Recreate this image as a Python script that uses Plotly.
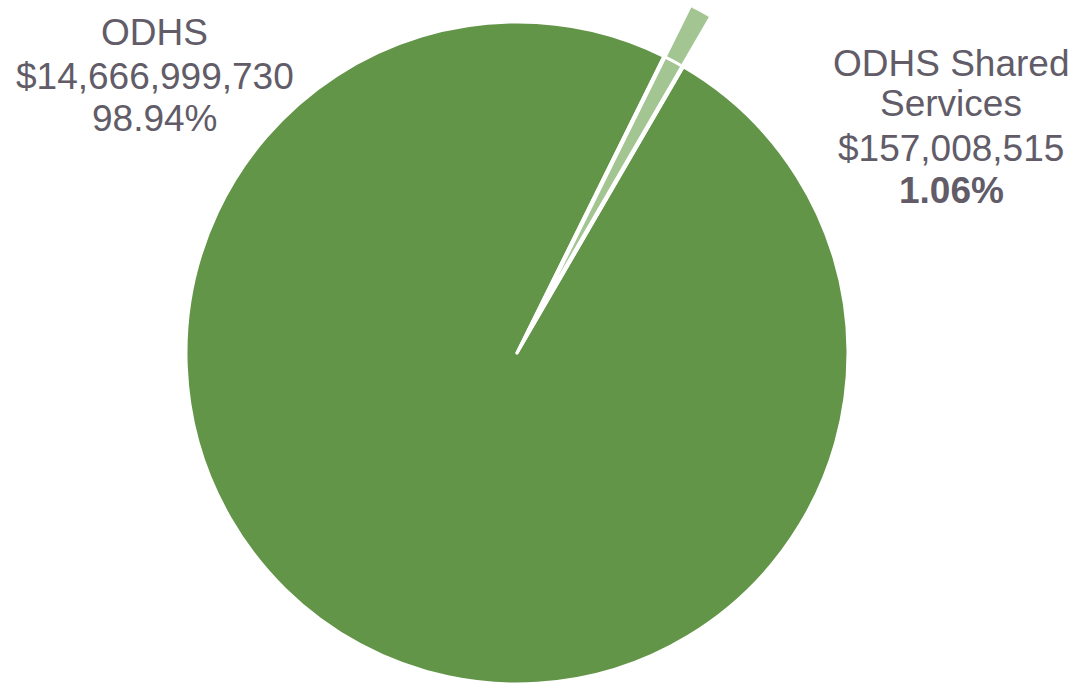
import math
import plotly.graph_objects as go

# ---------------- data ----------------
labels = ["ODHS", "ODHS Shared Services"]
label_lines = [["ODHS"], ["ODHS Shared", "Services"]]
values = [14666999730, 157008515]
slice_colors = ["#629547", "#a2c592"]
text_color = "#615c68"

# ---------------- layout geometry (px) ----------------
W, H = 1074, 685
CX, CY, R = 517, 353, 331      # main pie centre and radius
ROT = 30.16                    # start angle of first slice (deg, clockwise from 12 o'clock)
PULL = 57                      # pull-out distance of the small slice (px)
FONT = "Liberation Sans, Arial, sans-serif"
FSIZE = 37
left_x, left_ys = 155, [32, 76, 118]
right_x, right_ys = 951, [63, 103, 148, 190]

total = sum(values)
fracs = [v / total for v in values]
pcts = [f"{f * 100:.2f}%" for f in fracs]

fig = go.Figure()

# main pie: big slice green, small slice left empty (gap)
fig.add_trace(go.Pie(
    labels=labels, values=values, sort=False, direction="clockwise",
    rotation=ROT, textinfo="none", hole=0,
    marker=dict(colors=[slice_colors[0], "rgba(0,0,0,0)"],
                line=dict(color="white", width=3)),
    domain=dict(x=[(CX - R) / W, (CX + R) / W],
                y=[1 - (CY + R) / H, 1 - (CY - R) / H]),
    showlegend=False,
))

# pulled-out small slice, drawn as a polar wedge
a0 = (ROT + fracs[0] * 360) % 360
span = fracs[1] * 360
mid = a0 + span / 2
px = CX + PULL * math.sin(math.radians(mid))
py = CY - PULL * math.cos(math.radians(mid))
phi_lo = 90 - (a0 + span) - 0.5
phi_hi = 90 - a0 + 0.5
pts = [(0.0, 0.0),
       (math.cos(math.radians(phi_lo)), math.sin(math.radians(phi_lo))),
       (math.cos(math.radians(phi_hi)), math.sin(math.radians(phi_hi)))]
bx0 = min(p[0] for p in pts); bx1 = max(p[0] for p in pts)
by0 = min(p[1] for p in pts); by1 = max(p[1] for p in pts)
left = px + R * bx0; right = px + R * bx1
top = py - R * by1; bottom = py - R * by0

fig.add_trace(go.Barpolar(
    r=[1], theta=[mid], width=[span], base=[0],
    marker=dict(color=slice_colors[1], line=dict(color="white", width=2)),
    showlegend=False, name=labels[1],
))

fig.update_layout(
    polar=dict(
        domain=dict(x=[left / W, right / W], y=[1 - bottom / H, 1 - top / H]),
        sector=[phi_lo, phi_hi], bgcolor="rgba(0,0,0,0)", hole=0,
        radialaxis=dict(visible=False, range=[0, 1], showgrid=False, showline=False,
                        showticklabels=False, ticks=""),
        angularaxis=dict(visible=False, rotation=90, direction="clockwise",
                         showgrid=False, showline=False, showticklabels=False, ticks=""),
    ),
)

# labels
ann = []
left_lines = label_lines[0] + [f"${values[0]:,}", pcts[0]]
right_lines = label_lines[1] + [f"${values[1]:,}", f"<b>{pcts[1]}</b>"]
for t, y in zip(left_lines, left_ys):
    ann.append(dict(text=t, x=left_x / W, y=1 - y / H, xref="paper", yref="paper",
                    xanchor="center", yanchor="middle", showarrow=False,
                    font=dict(family=FONT, size=FSIZE, color=text_color)))
for t, y in zip(right_lines, right_ys):
    ann.append(dict(text=t, x=right_x / W, y=1 - y / H, xref="paper", yref="paper",
                    xanchor="center", yanchor="middle", showarrow=False,
                    font=dict(family=FONT, size=FSIZE, color=text_color)))

fig.update_layout(
    width=W, height=H, margin=dict(l=0, r=0, t=0, b=0),
    paper_bgcolor="white", plot_bgcolor="white", showlegend=False,
    annotations=ann,
)

fig.write_html("out.html", config={"displayModeBar": False},
               post_script="document.body.style.margin='0';document.body.style.overflow='hidden';")
